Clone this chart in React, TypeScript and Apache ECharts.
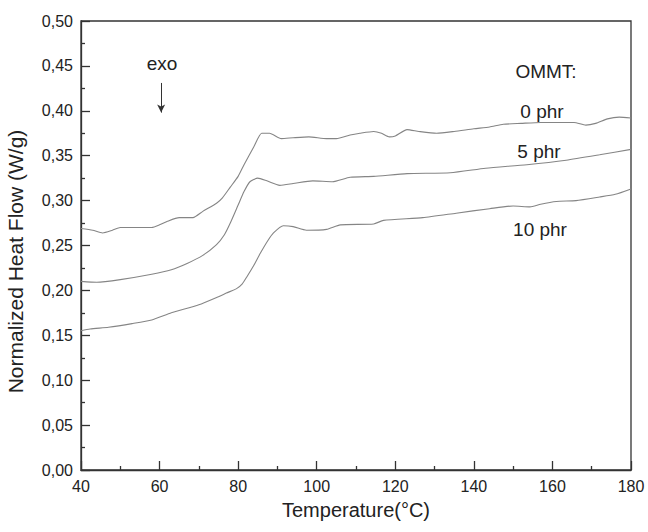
import React, { useEffect, useRef } from "react";
import * as echarts from "echarts";

// 0 phr
const x0 = [40, 43, 45.5, 48, 50, 55, 58, 60, 62, 65, 68.5, 71, 74.5, 76, 78, 80, 81.5, 84, 86, 88, 91, 94, 98, 102.5, 105, 108.5, 111, 114.5, 116.5, 118.5, 120, 123, 126, 130.5, 135, 140, 144, 147.5, 152, 157, 162, 165.5, 168.5, 171, 174, 177, 180];
const y0 = [0.269, 0.267, 0.264, 0.267, 0.270, 0.270, 0.270, 0.273, 0.277, 0.281, 0.281, 0.288, 0.297, 0.303, 0.315, 0.327, 0.340, 0.360, 0.375, 0.375, 0.369, 0.370, 0.371, 0.369, 0.369, 0.373, 0.375, 0.377, 0.375, 0.371, 0.372, 0.379, 0.377, 0.375, 0.377, 0.380, 0.382, 0.385, 0.386, 0.387, 0.387, 0.387, 0.384, 0.386, 0.391, 0.393, 0.392];
// 5 phr
const x5 = [40, 44, 50, 58, 63, 67, 71, 74.5, 76.5, 78, 80, 81.5, 83, 85, 87.3, 90.6, 94, 99, 104, 108.5, 114.5, 123, 134, 143, 153.5, 163.5, 172, 180];
const y5 = [0.210, 0.209, 0.212, 0.218, 0.223, 0.230, 0.239, 0.251, 0.262, 0.275, 0.295, 0.310, 0.321, 0.325, 0.322, 0.317, 0.319, 0.322, 0.321, 0.326, 0.327, 0.330, 0.331, 0.336, 0.340, 0.345, 0.351, 0.357];
// 10 phr
const x10 = [40, 42.3, 47, 53, 58, 63, 70, 75, 77, 79.6, 81, 82.2, 84, 85.6, 87.5, 89, 91.5, 94, 97.4, 102.5, 106, 114.5, 117, 127, 135.5, 144, 150, 154.3, 157, 161, 166, 172, 176, 180];
const y10 = [0.155, 0.157, 0.159, 0.163, 0.167, 0.175, 0.184, 0.193, 0.197, 0.202, 0.207, 0.215, 0.228, 0.241, 0.255, 0.264, 0.272, 0.271, 0.267, 0.268, 0.273, 0.274, 0.278, 0.281, 0.286, 0.291, 0.294, 0.293, 0.296, 0.299, 0.300, 0.304, 0.307, 0.313];

const seriesNames = ["0 phr", "5 phr", "10 phr"];
const arrowX = 60.4;
const arrowY = [0.431, 0.398];

const FONT = "Liberation Sans, Arial, sans-serif";
const TXT = "#222";

const zip = (xs: number[], ys: number[]) => xs.map((x, i) => [x, ys[i]]);

export default function App() {
  const ref = useRef<HTMLDivElement>(null);
  useEffect(() => {
    if (!ref.current) return;
    const chart = echarts.init(ref.current, undefined, { renderer: "svg" });
    const lineStyle = { color: "#858585", width: 1.1 };
    const fmt = (v: number) => v.toFixed(2).replace(".", ",");
    const ann = (text: string, x: number, y: number) => ({
      type: "text", x, y,
      style: { text, font: `19px ${FONT}`, fill: TXT, textAlign: "center", textVerticalAlign: "middle" },
    });
    chart.setOption({
      animation: false,
      backgroundColor: "#fff",
      grid: {
        left: 81, right: 17, top: 21, bottom: 62, containLabel: false, outerBoundsMode: "none",
        show: true, borderColor: "#333", borderWidth: 1.3, backgroundColor: "transparent",
      },
      xAxis: {
        type: "value", min: 40, max: 180, interval: 20,
        name: "Temperature(°C)", nameLocation: "middle", nameGap: 30,
        nameTextStyle: { fontFamily: FONT, fontSize: 20, color: TXT },
        axisLine: { show: true, lineStyle: { color: "#333", width: 1.3 } },
        axisTick: { show: true, inside: true, length: 9, lineStyle: { color: "#333", width: 1.3 } },
        minorTick: { show: true, splitNumber: 2, length: 4, lineStyle: { color: "#333", width: 1.3 } },
        axisLabel: { fontFamily: FONT, fontSize: 16, color: TXT, margin: 8 },
        splitLine: { show: false },
      },
      yAxis: {
        type: "value", min: 0, max: 0.5, interval: 0.05,
        name: "Normalized Heat Flow (W/g)", nameLocation: "middle", nameGap: 55,
        nameTextStyle: { fontFamily: FONT, fontSize: 21, color: TXT, padding: [0, 32, 0, 0] },
        axisLine: { show: true, lineStyle: { color: "#333", width: 1.3 } },
        axisTick: { show: true, inside: true, length: 9, lineStyle: { color: "#333", width: 1.3 } },
        minorTick: { show: true, splitNumber: 2, length: 4, lineStyle: { color: "#333", width: 1.3 } },
        axisLabel: { fontFamily: FONT, fontSize: 16, color: TXT, margin: 8, formatter: fmt },
        splitLine: { show: false },
      },
      series: [
        {
          name: seriesNames[0], type: "line", showSymbol: false, smooth: 0.2, data: zip(x0, y0), lineStyle,
          markLine: {
            silent: true, symbol: ["none", "arrow"], symbolSize: [6, 8],
            lineStyle: { color: "#333", width: 1, type: "solid" }, label: { show: false },
            data: [[{ coord: [arrowX, arrowY[0]] }, { coord: [arrowX, arrowY[1]] }]],
          },
        },
        { name: seriesNames[1], type: "line", showSymbol: false, smooth: 0.2, data: zip(x5, y5), lineStyle },
        { name: seriesNames[2], type: "line", showSymbol: false, smooth: 0.2, data: zip(x10, y10), lineStyle },
      ],
      graphic: [
        ann("exo", 162, 63),
        ann("OMMT:", 546, 71),
        ann(seriesNames[0], 542, 111),
        ann(seriesNames[1], 539, 151),
        ann(seriesNames[2], 540, 229),
      ],
    });
    return () => chart.dispose();
  }, []);
  return <div ref={ref} style={{ position: "fixed", left: 0, top: 0, width: 648, height: 532 }} />;
}
